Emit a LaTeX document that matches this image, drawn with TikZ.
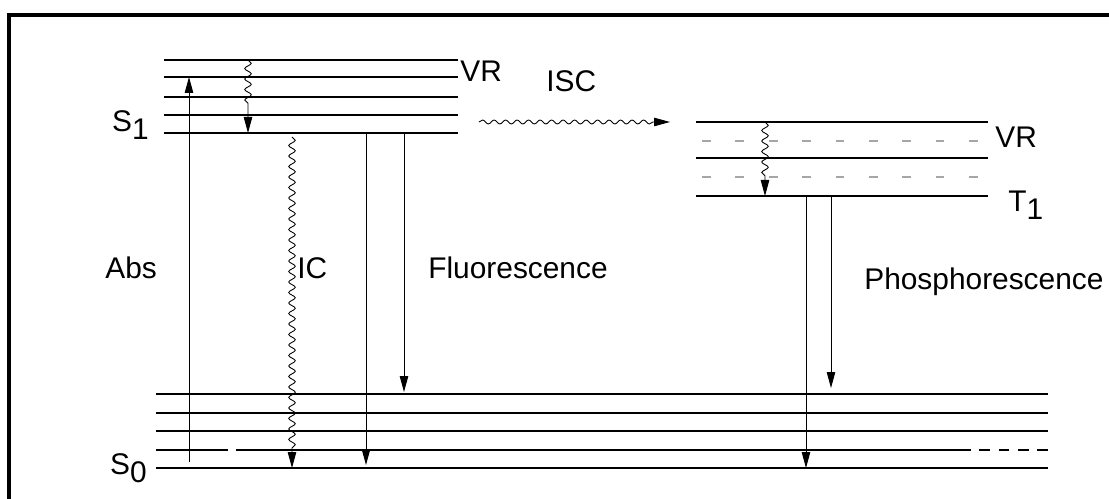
\documentclass[tikz,border=0pt]{standalone}
\usepackage{fontspec}
\setmainfont{Liberation Sans}
\usetikzlibrary{arrows.meta,decorations.pathmorphing}

\newcommand{\lev}[2]{#1\raisebox{-0.5ex}{#2}}

\tikzset{
  level/.style={line width=0.6pt},
  trans/.style={line width=0.5pt,-{Triangle[length=3.2mm,width=1.7mm]}},
  wavy/.style={trans,decorate,decoration={snake,amplitude=0.65mm,segment length=2.1mm,post length=3.5mm}},
  lbl/.style={font=\fontsize{17}{19}\selectfont,inner sep=0pt},
}

\begin{document}
\begin{tikzpicture}[x=0.02cm,y=-0.02cm]
    \useasboundingbox (0,0) rectangle (1109,499);
    \draw[line width=2.2pt] (9,499) -- (9,15) -- (1109,15);

    % singlet S1
    \foreach \y in {60,77,97,115,133}
        \draw[level] (164,\y) -- (458,\y);
    % triplet T1
    \foreach \y in {122,158,196}
        \draw[level] (696,\y) -- (988,\y);
    \foreach \y in {141,177}
        \draw[level,gray!70,dash pattern=on 5pt off 14pt] (702,\y) -- (985,\y);
    % ground state S0
    \foreach \y in {394,413,431,468}
        \draw[level] (156,\y) -- (1048,\y);
    \draw[level] (156,450) -- (228,450) (236,450) -- (960,450);
    \draw[level,dash pattern=on 6pt off 5pt] (960,450) -- (1048,450);

    % transitions
    \draw[trans] (189,462) -- (189,77);
    \draw[wavy,decoration={post length=5mm}] (248,60) -- (248,133);
    \draw[wavy] (292,137) -- (292,468);
    \draw[trans] (366,133) -- (366,465);
    \draw[trans] (404,133) -- (404,392);
    \draw[wavy,decoration={amplitude=0.4mm,segment length=2.3mm,post length=2.5mm}] (479,122) -- (670,122);
    \draw[wavy,decoration={post length=3.5mm}] (765,122) -- (765,196);
    \draw[trans] (806,196) -- (806,468);
    \draw[trans] (831,196) -- (831,388);

    \node[lbl,anchor=base east] (s1) at (149,132) {\lev{S}{1}};
    \node[lbl,anchor=base east] (s0) at (147,475) {\lev{S}{0}};
    \node[lbl,anchor=base west] (t1) at (1008,212) {\lev{T}{1}};
    \node[lbl,anchor=base west] (vrs) at (460,82) {VR};
    \node[lbl,anchor=base west] (vrt) at (995,148) {VR};
    \node[lbl,anchor=base west] (isc) at (546,92) {ISC};
    \node[lbl,anchor=base west] (abs) at (105,279) {Abs};
    \node[lbl,anchor=base west] (ic) at (297,279) {IC};
    \node[lbl,anchor=base west] (fl) at (428,279) {Fluorescence};
    \node[lbl,anchor=base west] (ph) at (864,290) {Phosphorescence};
\end{tikzpicture}
\end{document}
